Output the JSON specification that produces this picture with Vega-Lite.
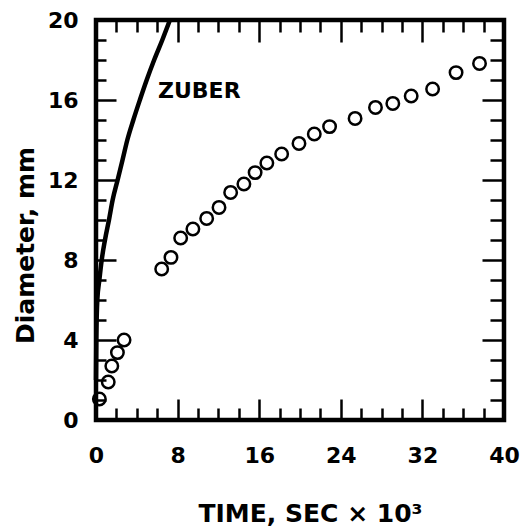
{
  "$schema": "https://vega.github.io/schema/vega-lite/v6.json",
  "width": 408,
  "height": 400,
  "autosize": "none",
  "padding": {"left": 96, "top": 20, "right": 20, "bottom": 111},
  "config": {
    "view": {"stroke": "black", "strokeWidth": 4.5},
    "font": "DejaVu Sans",
    "axis": {
      "domain": false,
      "grid": false,
      "tickColor": "black",
      "tickWidth": 2.5,
      "labelFont": "DejaVu Sans",
      "labelFontWeight": "bold",
      "labelFontSize": 22,
      "labelColor": "black",
      "labelFlush": false,
      "labelOverlap": false,
      "titleFont": "DejaVu Sans",
      "titleFontWeight": "bold",
      "titleFontSize": 25,
      "titleColor": "black"
    }
  },
  "datasets": {
    "measured": [
      {"t": 0.33, "d": 1.05}, {"t": 1.2, "d": 1.9}, {"t": 1.55, "d": 2.7}, {"t": 2.1, "d": 3.37}, {"t": 2.75, "d": 4.0},
      {"t": 6.44, "d": 7.55}, {"t": 7.35, "d": 8.13}, {"t": 8.3, "d": 9.1}, {"t": 9.5, "d": 9.55}, {"t": 10.85, "d": 10.08},
      {"t": 12.06, "d": 10.63}, {"t": 13.2, "d": 11.38}, {"t": 14.5, "d": 11.8}, {"t": 15.6, "d": 12.37}, {"t": 16.75, "d": 12.85},
      {"t": 18.2, "d": 13.3}, {"t": 19.9, "d": 13.83}, {"t": 21.4, "d": 14.3}, {"t": 22.9, "d": 14.67}, {"t": 25.4, "d": 15.08},
      {"t": 27.4, "d": 15.63}, {"t": 29.1, "d": 15.83}, {"t": 30.9, "d": 16.2}, {"t": 33.0, "d": 16.55}, {"t": 35.3, "d": 17.37},
      {"t": 37.6, "d": 17.83}
    ],
    "zuber": [
      {"t": 0.0, "d": 2.0}, {"t": 0.03, "d": 4.0}, {"t": 0.13, "d": 6.0}, {"t": 0.33, "d": 7.0}, {"t": 0.56, "d": 8.0},
      {"t": 0.88, "d": 9.0}, {"t": 1.27, "d": 10.0}, {"t": 1.63, "d": 11.0}, {"t": 2.12, "d": 12.0}, {"t": 2.6, "d": 13.0},
      {"t": 3.07, "d": 14.0}, {"t": 3.66, "d": 15.0}, {"t": 4.3, "d": 16.0}, {"t": 4.97, "d": 17.0}, {"t": 5.7, "d": 18.0},
      {"t": 6.5, "d": 19.0}, {"t": 7.25, "d": 20.0}
    ],
    "label": [{"t": 6.08, "d": 16.1, "text": "ZUBER"}]
  },
  "layer": [
    {
      "data": {"name": "measured"},
      "transform": [{"filter": "datum.t < 5"}],
      "mark": {"type": "point", "shape": "circle", "filled": false, "color": "black", "strokeWidth": 2.5, "size": 155, "opacity": 1},
      "encoding": {
        "x": {
          "field": "t", "type": "quantitative",
          "scale": {"domain": [0, 40], "nice": false, "zero": false},
          "axis": {
            "orient": "bottom",
            "values": [0, 8, 16, 24, 32, 40],
            "tickSize": -21,
            "labelPadding": 46,
            "title": "TIME,  SEC × 10³",
            "titleX": 214,
            "titleY": 101,
            "titleBaseline": "alphabetic"
          }
        },
        "y": {
          "field": "d", "type": "quantitative",
          "scale": {"domain": [0, 20], "nice": false, "zero": false},
          "axis": {
            "orient": "left",
            "values": [0, 4, 8, 12, 16, 20],
            "tickSize": -20,
            "labelPadding": 38,
            "title": "Diameter,  mm",
            "titleX": -63,
            "titleY": 225,
            "titleBaseline": "alphabetic"
          }
        }
      }
    },
    {
      "data": {"name": "measured"},
      "transform": [{"filter": "datum.t >= 5"}],
      "mark": {"type": "point", "shape": "circle", "filled": false, "color": "black", "strokeWidth": 2.5, "size": 155, "opacity": 1},
      "encoding": {
        "x": {
          "field": "t", "type": "quantitative",
          "scale": {"domain": [0, 40], "nice": false, "zero": false},
          "axis": {
            "orient": "bottom",
            "values": [2, 4, 6, 10, 12, 14, 18, 20, 22, 26, 28, 30, 34, 36, 38],
            "tickSize": -12,
            "labels": false,
            "title": null
          }
        },
        "y": {
          "field": "d", "type": "quantitative",
          "scale": {"domain": [0, 20], "nice": false, "zero": false},
          "axis": {
            "orient": "left",
            "values": [1, 2, 3, 5, 6, 7, 9, 10, 11, 13, 14, 15, 17, 18, 19],
            "tickSize": -10,
            "labels": false,
            "title": null
          }
        }
      }
    },
    {
      "data": {"name": "zuber"},
      "mark": {"type": "line", "color": "black", "strokeWidth": 4.5, "interpolate": "monotone"},
      "encoding": {
        "x": {
          "field": "t", "type": "quantitative",
          "scale": {"domain": [0, 40], "nice": false, "zero": false},
          "axis": {
            "orient": "top",
            "values": [0, 8, 16, 24, 32, 40],
            "tickSize": -22,
            "labels": false,
            "title": null
          }
        },
        "y": {
          "field": "d", "type": "quantitative",
          "scale": {"domain": [0, 20], "nice": false, "zero": false},
          "axis": {
            "orient": "right",
            "values": [0, 4, 8, 12, 16, 20],
            "tickSize": -22,
            "labels": false,
            "title": null
          }
        }
      }
    },
    {
      "data": {"name": "label"},
      "mark": {"type": "text", "align": "left", "baseline": "alphabetic", "font": "DejaVu Sans", "fontWeight": "bold", "fontSize": 22, "color": "black"},
      "encoding": {
        "x": {
          "field": "t", "type": "quantitative",
          "scale": {"domain": [0, 40], "nice": false, "zero": false},
          "axis": {
            "orient": "top",
            "values": [2, 4, 6, 10, 12, 14, 18, 20, 22, 26, 28, 30, 34, 36, 38],
            "tickSize": -12,
            "labels": false,
            "title": null
          }
        },
        "y": {
          "field": "d", "type": "quantitative",
          "scale": {"domain": [0, 20], "nice": false, "zero": false},
          "axis": {
            "orient": "right",
            "values": [1, 2, 3, 5, 6, 7, 9, 10, 11, 13, 14, 15, 17, 18, 19],
            "tickSize": -14,
            "labels": false,
            "title": null
          }
        },
        "text": {"field": "text"}
      }
    }
  ],
  "resolve": {"axis": {"x": "independent", "y": "independent"}}
}
